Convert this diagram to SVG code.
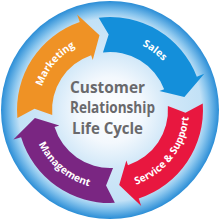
<svg xmlns="http://www.w3.org/2000/svg" xmlns:xlink="http://www.w3.org/1999/xlink" width="220" height="220" viewBox="0 0 220 220">
  <defs>
    <radialGradient id="bg" cx="110" cy="110" r="109" gradientUnits="userSpaceOnUse">
      <stop offset="0" stop-color="#ffffff"/>
      <stop offset="0.3" stop-color="#f3f8fd"/>
      <stop offset="0.53" stop-color="#d2e8f8"/>
      <stop offset="0.84" stop-color="#c2e1f6"/>
      <stop offset="0.9" stop-color="#8ac6ee"/>
      <stop offset="1" stop-color="#2a8dd6"/>
    </radialGradient>
    <path id="arrow" d="M17.51,119.72 A93,93 0 0 1 78.19,22.61 L75.46,15.09 L98.19,35.43 L91.87,60.20 L90.16,55.50 A58,58 0 0 0 52.32,116.06 L34.5,110 Z"/>
    <path id="p-marketing" d="M38.27,116.28 A72,72 0 0 1 103.72,38.27"/>
    <path id="p-sales" d="M99.98,38.70 A72,72 0 0 1 181.30,99.98"/>
    <path id="p-service" d="M119.63,188.41 A79,79 0 0 0 188.41,100.37"/>
    <path id="p-management" d="M31.30,116.89 A79,79 0 0 0 116.89,188.70"/>
    <style>
      .lbl { font-family: "Open Sans", "Liberation Sans", sans-serif; font-weight: 700; font-size: 10.2px; fill: #ffffff; }
      .ctr { font-family: "Open Sans", "Liberation Sans", sans-serif; font-weight: 700; font-size: 16.5px; fill: #69696c; }
    </style>
  </defs>
  <circle id="disk" cx="110" cy="110" r="109" fill="url(#bg)"/>
  <g id="marketing">
    <use xlink:href="#arrow" href="#arrow" fill="#ef9225" transform="rotate(1 110 110)"/>
    <text class="lbl"><textPath xlink:href="#p-marketing" href="#p-marketing" startOffset="50%" text-anchor="middle">Marketing</textPath></text>
  </g>
  <g id="sales">
    <use xlink:href="#arrow" href="#arrow" fill="#148fda" transform="rotate(89 110 110)"/>
    <text class="lbl"><textPath xlink:href="#p-sales" href="#p-sales" startOffset="50%" text-anchor="middle">Sales</textPath></text>
  </g>
  <g id="service">
    <use xlink:href="#arrow" href="#arrow" fill="#e8173f" transform="rotate(182 110 110)"/>
    <text class="lbl"><textPath xlink:href="#p-service" href="#p-service" startOffset="50%" text-anchor="middle">Service &amp; Support</textPath></text>
  </g>
  <g id="management">
    <use xlink:href="#arrow" href="#arrow" fill="#7a2682" transform="rotate(273 110 110)"/>
    <text class="lbl"><textPath xlink:href="#p-management" href="#p-management" startOffset="50%" text-anchor="middle">Management</textPath></text>
  </g>
  <g id="center">
    <text class="ctr" x="70" y="92.7" textLength="75" lengthAdjust="spacingAndGlyphs">Customer</text>
    <text class="ctr" x="70" y="113.3" textLength="85" lengthAdjust="spacingAndGlyphs">Relationship</text>
    <text class="ctr" x="72" y="134.3" textLength="71" lengthAdjust="spacingAndGlyphs">Life Cycle</text>
  </g>
</svg>
